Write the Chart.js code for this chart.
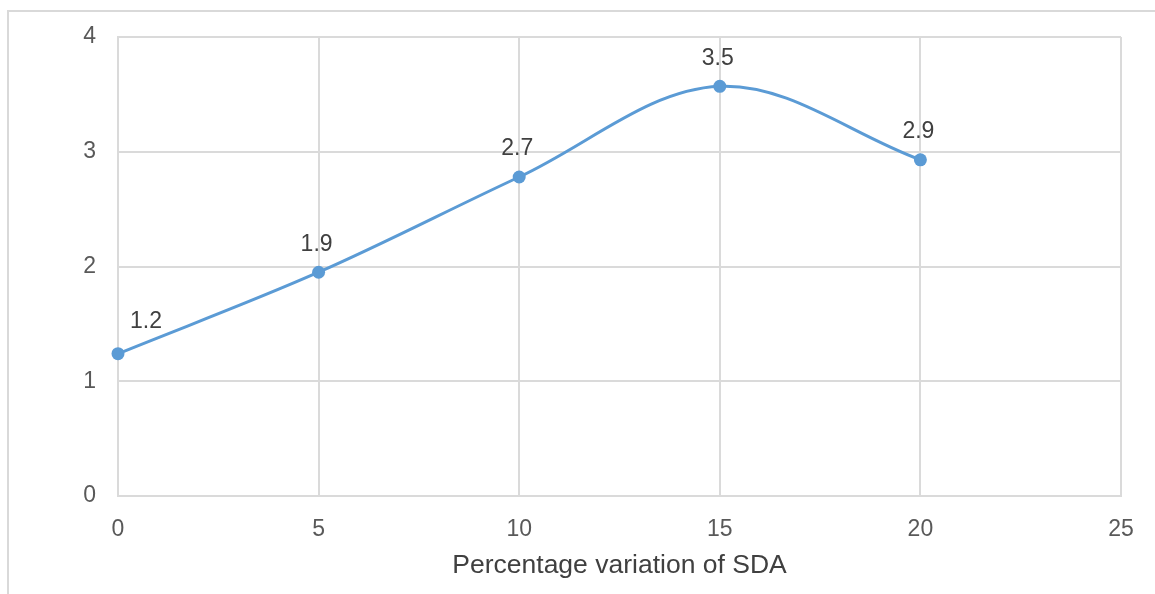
<!DOCTYPE html>
<html>
<head>
<meta charset="utf-8">
<script src="https://cdn.jsdelivr.net/npm/chart.js@4/dist/chart.umd.min.js"></script>
<style>
  html, body { margin: 0; padding: 0; background: #ffffff; }
  body { width: 1155px; height: 594px; position: relative; overflow: hidden; }
  #frame {
    position: absolute; left: 7px; top: 10px; width: 1160px; height: 600px;
    border-top: 2px solid #d9d9d9; border-left: 2px solid #d9d9d9;
    box-sizing: border-box;
  }
  #clip { position: absolute; left: 0; top: 0; width: 1155px; height: 578px; overflow: hidden; }
  #chart { display: block; }
</style>
</head>
<body>
<div id="frame"></div>
<div id="clip"><canvas id="chart" width="1155" height="594"></canvas></div>
<script>
// Percentage variation of SDA against the measured response
const sdaVariation = [0, 5, 10, 15, 20];
const responseValues = [1.24, 1.95, 2.78, 3.57, 2.93];
const xTicks = [0, 5, 10, 15, 20, 25];
const yTicks = [0, 1, 2, 3, 4];
const xTitle = 'Percentage variation of SDA';

const points = sdaVariation.map((x, i) => ({ x: x, y: responseValues[i] }));

const FONT = '"Liberation Sans", Arial, sans-serif';
const GRID = '#dadada';

// Value labels, one decimal place (truncated), drawn above each point
const valueLabels = {
  id: 'valueLabels',
  afterDatasetsDraw(chart) {
    const ctx = chart.ctx;
    const meta = chart.getDatasetMeta(0);
    const xMin = chart.scales.x.min;
    ctx.save();
    ctx.font = '23px ' + FONT;
    ctx.fillStyle = '#404040';
    ctx.textAlign = 'center';
    ctx.textBaseline = 'middle';
    meta.data.forEach((el, i) => {
      const v = responseValues[i];
      const text = (Math.floor(v * 10 + 1e-9) / 10).toFixed(1);
      let dx = -2, dy = -28;
      if (sdaVariation[i] === xMin) { dx = 28; dy = -32; }
      ctx.fillText(text, el.x + dx, el.y + dy);
    });
    ctx.restore();
  }
};

new Chart(document.getElementById('chart'), {
  type: 'line',
  data: {
    datasets: [{
      data: points,
      borderColor: '#5b9bd5',
      backgroundColor: '#5b9bd5',
      borderWidth: 3,
      pointRadius: 6.5,
      pointHoverRadius: 6.5,
      pointBorderWidth: 0,
      tension: 0.35,
      fill: false,
      clip: false
    }]
  },
  options: {
    responsive: false,
    animation: false,
    events: [],
    layout: { padding: { left: 0, right: 34, top: 37, bottom: 0 } },
    plugins: {
      legend: { display: false },
      tooltip: { enabled: false }
    },
    scales: {
      x: {
        type: 'linear',
        min: 0, max: 25,
        afterBuildTicks(scale) { scale.ticks = xTicks.map(v => ({ value: v })); },
        afterFit(scale) { scale.height = 98; },
        grid: { color: GRID, lineWidth: 2, drawTicks: false },
        border: { display: true, color: GRID, width: 2 },
        ticks: { color: '#595959', font: { family: FONT, size: 23 }, padding: 20, maxRotation: 0 },
        title: {
          display: true, text: xTitle, color: '#404040',
          font: { family: FONT, size: 26.5 }, padding: { top: 0, bottom: 12 }
        }
      },
      y: {
        type: 'linear',
        min: 0, max: 4,
        afterBuildTicks(scale) { scale.ticks = yTicks.map(v => ({ value: v })); },
        afterFit(scale) { scale.width = 118; },
        grid: { color: GRID, lineWidth: 2, drawTicks: false },
        border: { display: true, color: GRID, width: 2 },
        ticks: { color: '#595959', font: { family: FONT, size: 23 }, padding: 22 }
      }
    }
  },
  plugins: [valueLabels]
});
</script>
</body>
</html>
